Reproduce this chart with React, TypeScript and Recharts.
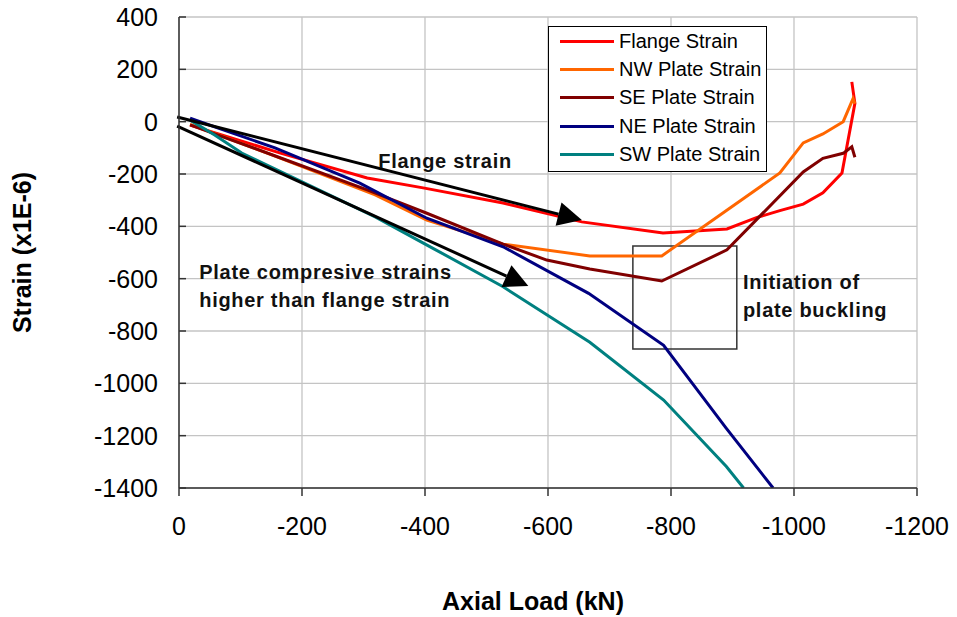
import {
  LineChart, Line, XAxis, YAxis, CartesianGrid, ReferenceLine, ReferenceArea, ReferenceDot,
} from 'recharts';

const FONT = '"Liberation Sans", Arial, sans-serif';

// axis ticks
const loadTicks = [0, -200, -400, -600, -800, -1000, -1200];
const strainTicks = [400, 200, 0, -200, -400, -600, -800, -1000, -1200, -1400];

// series, load (kN) and strain (x1E-6)
const flangeLoad = [-18, -165, -306, -397, -527, -655, -787, -891, -940, -977, -1015, -1047, -1078, -1099, -1094];
const flangeStrain = [-13, -120, -215, -253, -311, -383, -425, -410, -366, -340, -315, -272, -196, 70, 152];

const nwLoad = [-18, -151, -319, -403, -527, -668, -785, -977, -1015, -1047, -1080, -1096, -1099];
const nwStrain = [-10, -127, -280, -376, -468, -513, -513, -196, -81, -47, 0, 88, 68];

const seLoad = [-18, -161, -306, -403, -527, -598, -668, -785, -891, -1015, -1047, -1080, -1094, -1099];
const seStrain = [-12, -135, -261, -350, -468, -529, -563, -609, -490, -192, -140, -121, -96, -136];

const neLoad = [-18, -156, -294, -403, -527, -666, -788, -890, -966];
const neStrain = [13, -100, -235, -369, -478, -656, -855, -1172, -1400];

const swLoad = [-18, -58, -102, -319, -413, -527, -668, -788, -890, -918];
const swStrain = [6, -51, -120, -364, -484, -631, -843, -1064, -1318, -1400];

const zip = (xs: number[], ys: number[]) => xs.map((x, i) => ({ x, y: ys[i] }));

const series = [
  { name: 'Flange Strain', color: '#FF0000', data: zip(flangeLoad, flangeStrain) },
  { name: 'NW Plate Strain', color: '#FF6600', data: zip(nwLoad, nwStrain) },
  { name: 'SE Plate Strain', color: '#800000', data: zip(seLoad, seStrain) },
  { name: 'NE Plate Strain', color: '#000080', data: zip(neLoad, neStrain) },
  { name: 'SW Plate Strain', color: '#008080', data: zip(swLoad, swStrain) },
];

// annotations (data coordinates)
const flangeArrow = [{ x: 3, y: 18 }, { x: -655, y: -376 }];
const plateArrow = [{ x: 3, y: -17 }, { x: -568, y: -628 }];
const notes = [
  { x: -324, y: -177, lines: ['Flange strain'] },
  { x: -33, y: -601, lines: ['Plate compresive strains', 'higher than flange strain'] },
  { x: -917, y: -639, lines: ['Initiation of', 'plate buckling'] },
];

const Y_TICK_SIZE = 7;
const Y_TICK_MARGIN = 14;

function YTick(props: any) {
  const { x, y, payload } = props;
  const axisX = x + Y_TICK_SIZE + Y_TICK_MARGIN;
  return (
    <g>
      <line x1={axisX} x2={axisX + Y_TICK_SIZE} y1={y} y2={y} stroke="#333" strokeWidth={1.5} />
      <text x={x} y={y} dy="0.355em" textAnchor="end" fontSize={25} fill="#000" fontFamily={FONT}>
        {payload.value}
      </text>
    </g>
  );
}

function Arrow(props: any) {
  const { x1, y1, x2, y2 } = props;
  const len = Math.hypot(x2 - x1, y2 - y1) || 1;
  const ux = (x2 - x1) / len;
  const uy = (y2 - y1) / len;
  const head = 24;
  const half = 12;
  const bx = x2 - ux * head;
  const by = y2 - uy * head;
  const pts = `${x2},${y2} ${bx - uy * half},${by + ux * half} ${bx + uy * half},${by - ux * half}`;
  return (
    <g>
      <line x1={x1} y1={y1} x2={bx} y2={by} stroke="#000" strokeWidth={3} />
      <polygon points={pts} fill="#000" />
    </g>
  );
}

const noteShape = (lines: string[]) => (p: any) => (
  <text x={p.cx} y={p.cy} fontSize={20} fontWeight="bold" letterSpacing={0.7} fill="#111" fontFamily={FONT}>
    {lines.map((t, i) => (
      <tspan key={i} x={p.cx} dy={i === 0 ? 0 : 28}>{t}</tspan>
    ))}
  </text>
);

export default function App() {
  return (
    <div style={{ position: 'absolute', left: 0, top: 0, width: 957, height: 617, background: '#fff', fontFamily: FONT }}>
      <LineChart width={957} height={617} margin={{ top: 17, right: 40, bottom: 0, left: 0 }}>
        <CartesianGrid stroke="#c4c4c4" strokeWidth={1.3} />
        <XAxis
          type="number"
          dataKey="x"
          domain={[-1200, 0]}
          reversed
          allowDataOverflow
          ticks={loadTicks}
          height={129}
          tickSize={8}
          tickMargin={21}
          tick={{ fontSize: 25, fill: '#000', fontFamily: FONT }}
          tickLine={{ stroke: '#333', strokeWidth: 1.5 }}
          axisLine={{ stroke: '#333', strokeWidth: 1.5 }}
          label={{
            content: (p: any) => (
              <text x={p.viewBox.x + p.viewBox.width / 2 - 15} y={p.viewBox.y + 122} textAnchor="middle"
                fontSize={25} fontWeight="bold" fill="#000" fontFamily={FONT}>
                Axial Load (kN)
              </text>
            ),
          }}
        />
        <YAxis
          type="number"
          dataKey="y"
          domain={[-1400, 400]}
          allowDataOverflow
          ticks={strainTicks}
          width={179}
          tickSize={Y_TICK_SIZE}
          tickMargin={Y_TICK_MARGIN}
          tickLine={false}
          tick={<YTick />}
          axisLine={{ stroke: '#333', strokeWidth: 1.5 }}
          label={{
            content: (p: any) => (
              <text x={p.viewBox.x + 31} y={p.viewBox.y + p.viewBox.height / 2} textAnchor="middle"
                transform={`rotate(-90, ${p.viewBox.x + 31}, ${p.viewBox.y + p.viewBox.height / 2})`}
                fontSize={25} fontWeight="bold" fill="#000" fontFamily={FONT}>
                Strain (x1E-6)
              </text>
            ),
          }}
        />
        {series.map((s) => (
          <Line key={s.name} data={s.data} dataKey="y" name={s.name} type="linear" stroke={s.color}
            strokeWidth={3} dot={false} isAnimationActive={false} />
        ))}
        <ReferenceArea x1={-738} x2={-907} y1={-475} y2={-869} fill="none" fillOpacity={0}
          stroke="#333" strokeWidth={1.5} ifOverflow="visible" />
        <ReferenceLine segment={flangeArrow} ifOverflow="visible" shape={Arrow} />
        <ReferenceLine segment={plateArrow} ifOverflow="visible" shape={Arrow} />
        {notes.map((n, i) => (
          <ReferenceDot key={i} x={n.x} y={n.y} r={0} ifOverflow="visible" shape={noteShape(n.lines)} />
        ))}
      </LineChart>
      <div style={{
        position: 'absolute', left: 548, top: 26, width: 219, height: 146, boxSizing: 'border-box',
        border: '1px solid #000', background: '#fff',
      }}>
        {series.map((s) => (
          <div key={s.name} style={{ height: 28.3, display: 'flex', alignItems: 'center' }}>
            <div style={{ marginLeft: 11, width: 54, height: 3, background: s.color }} />
            <span style={{ marginLeft: 5, fontSize: 20, color: '#000', whiteSpace: 'nowrap' }}>{s.name}</span>
          </div>
        ))}
      </div>
    </div>
  );
}
